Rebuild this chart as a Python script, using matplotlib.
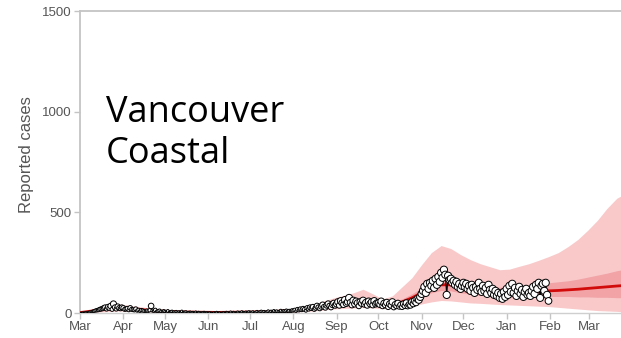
import numpy as np
import matplotlib
matplotlib.use("Agg")
import matplotlib.pyplot as plt

# Daily reported cases, Vancouver Coastal, Mar 1 2020 - Jan 31 2021
cases_mar = [1,1,2,2,3,3,4,5,6,8,10,12,14,15,18,20,22,25,28,20,30,25,35,18,45,28,20,32,25,22,28]
cases_apr = [25,18,20,22,15,25,18,16,14,20,12,15,10,14,12,10,8,12,10,14,35,12,10,15,8,10,12,8,6,10]
cases_may = [8,6,10,5,7,8,6,5,7,4,6,5,8,4,5,6,3,4,5,3,4,3,5,2,4,3,2,3,4,2,3]
cases_jun = [2,3,2,1,3,2,4,2,3,1,2,3,2,4,3,2,5,3,4,2,3,5,4,3,6,4,3,5,4,6]
cases_jul = [5,4,6,3,5,7,4,6,8,5,7,4,6,9,5,8,6,10,7,9,6,8,11,7,10,8,12,9,11,8,13]
cases_aug = [12,15,10,18,14,20,16,22,18,12,25,20,28,24,30,18,26,35,28,22,32,40,30,26,38,45,35,28,42,48,38]
cases_sep = [45,55,38,60,50,42,65,48,55,75,52,40,62,45,58,50,35,55,48,62,44,52,38,58,46,54,40,60,45,50]
cases_oct = [50,42,58,35,48,40,52,30,45,38,55,28,42,35,48,32,40,30,45,36,50,34,42,38,55,46,60,52,70,65,80]
cases_nov = [95,110,130,100,145,120,150,135,160,125,170,140,180,155,200,175,215,190,90,185,165,170,150,160,140,155,130,145,120,135]
cases_dec = [150,130,145,120,135,110,140,125,100,130,115,150,120,105,135,110,125,95,140,115,100,120,90,110,85,100,75,95,70,105,80]
cases_jan = [120,90,135,105,145,100,125,85,110,130,95,115,80,105,120,90,100,85,110,130,95,140,120,150,75,135,145,110,150,90,60]

# Model fit and projection: median, 50% and 90% intervals
model_dates = ["2020-03-01","2020-03-15","2020-03-29","2020-04-12","2020-04-26","2020-05-10",
               "2020-05-24","2020-06-07","2020-06-21","2020-07-05","2020-07-19","2020-08-02",
               "2020-08-16","2020-08-30","2020-09-13","2020-09-20","2020-09-27","2020-10-04",
               "2020-10-11","2020-10-18","2020-10-25","2020-11-01","2020-11-08","2020-11-15",
               "2020-11-22","2020-11-29","2020-12-06","2020-12-13","2020-12-20","2020-12-27",
               "2021-01-03","2021-01-10","2021-01-17","2021-01-24","2021-01-31","2021-02-07",
               "2021-02-14","2021-02-21","2021-02-28","2021-03-07","2021-03-14","2021-03-21",
               "2021-03-25"]
model_mid  = [2,15,25,18,10,6,4,3,4,5,8,12,25,40,50,52,48,42,45,55,75,100,125,140,140,130,
              120,112,105,100,100,102,105,108,110,112,115,118,122,126,130,134,136]
model_lo50 = [1,10,18,13,7,4,3,2,3,4,6,9,19,32,40,42,38,34,36,44,60,80,100,112,110,100,
              95,88,82,78,78,80,82,82,82,82,82,80,80,78,78,76,76]
model_hi50 = [3,20,32,23,14,8,6,4,5,7,10,16,32,50,62,65,58,52,56,70,95,125,155,170,170,160,
              150,140,130,128,128,132,138,145,150,155,160,168,178,188,198,210,215]
model_lo90 = [0,5,10,8,3,2,1,1,1,2,3,5,10,20,25,28,25,22,22,28,35,45,55,62,60,55,
              50,48,45,42,40,38,36,34,32,28,24,20,16,12,10,8,6]
model_hi90 = [5,28,45,32,20,12,9,7,8,10,15,24,45,75,100,118,95,70,85,130,175,240,300,335,320,290,
              265,245,230,215,218,232,245,262,280,300,330,365,410,460,520,570,585]

month_labels = ["Mar","Apr","May","Jun","Jul","Aug","Sep","Oct","Nov","Dec","Jan","Feb","Mar"]
y_ticks = [0, 500, 1000, 1500]

cases = np.array(cases_mar + cases_apr + cases_may + cases_jun + cases_jul + cases_aug +
                 cases_sep + cases_oct + cases_nov + cases_dec + cases_jan, dtype=float)
case_dates = np.datetime64("2020-03-01") + np.arange(len(cases))
md = np.array(model_dates, dtype="datetime64[D]")

fig = plt.figure(figsize=(6.21, 3.38), dpi=100)
ax = fig.add_axes([80/621, 25/338, 541/621, 302/338])

c_outer = "#f9c9ca"
c_inner = "#f1a3a6"
c_line = "#d20a0a"

ax.fill_between(md, model_lo90, model_hi90, color=c_outer, lw=0, zorder=1)
ax.fill_between(md, model_lo50, model_hi50, color=c_inner, lw=0, zorder=2)
ax.plot(md, model_mid, color=c_line, lw=2.0, zorder=3)

ax.plot(case_dates, cases, color="black", lw=0.8, zorder=4)
diam_px = np.minimum(7.2, 1.0 + 6.6 * (1 - np.exp(-cases / 30.0)))
ax.scatter(case_dates, cases, s=(diam_px * 72 / 100) ** 2, facecolor="white",
           edgecolor="black", linewidth=0.7, zorder=5)

ax.set_ylim(0, 1500)
ax.set_xlim(np.datetime64("2020-03-01"), np.datetime64("2021-03-24"))
ax.set_yticks(y_ticks)
ax.set_yticklabels([str(v) for v in y_ticks])

month_ticks = np.arange(np.datetime64("2020-03"), np.datetime64("2021-04"),
                        dtype="datetime64[M]").astype("datetime64[D]")
ax.set_xticks(month_ticks)
ax.set_xticklabels(month_labels)

ax.spines["right"].set_visible(False)
for s in ["left", "top"]:
    ax.spines[s].set_color("#c4c4c4")
    ax.spines[s].set_linewidth(1.3)
ax.spines["bottom"].set_color("#cfcfcf")
ax.spines["bottom"].set_linewidth(1.0)

ax.tick_params(axis="both", colors="#c4c4c4", labelcolor="#555555", labelsize=9.5,
               length=4, width=1.0, pad=2)
for lab in ax.get_xticklabels() + ax.get_yticklabels():
    lab.set_family("Liberation Sans")

ax.set_ylabel("Reported cases", fontsize=12, color="#555555", family="Liberation Sans")
ax.yaxis.set_label_coords(-0.085, 0.525)

fig.text(106/621, 1 - 122/338, "Vancouver", fontsize=26, family="Open Sans",
         color="black", va="baseline", ha="left")
fig.text(106/621, 1 - 163/338, "Coastal", fontsize=26, family="Open Sans",
         color="black", va="baseline", ha="left")

fig.savefig("out.png", dpi=100)
